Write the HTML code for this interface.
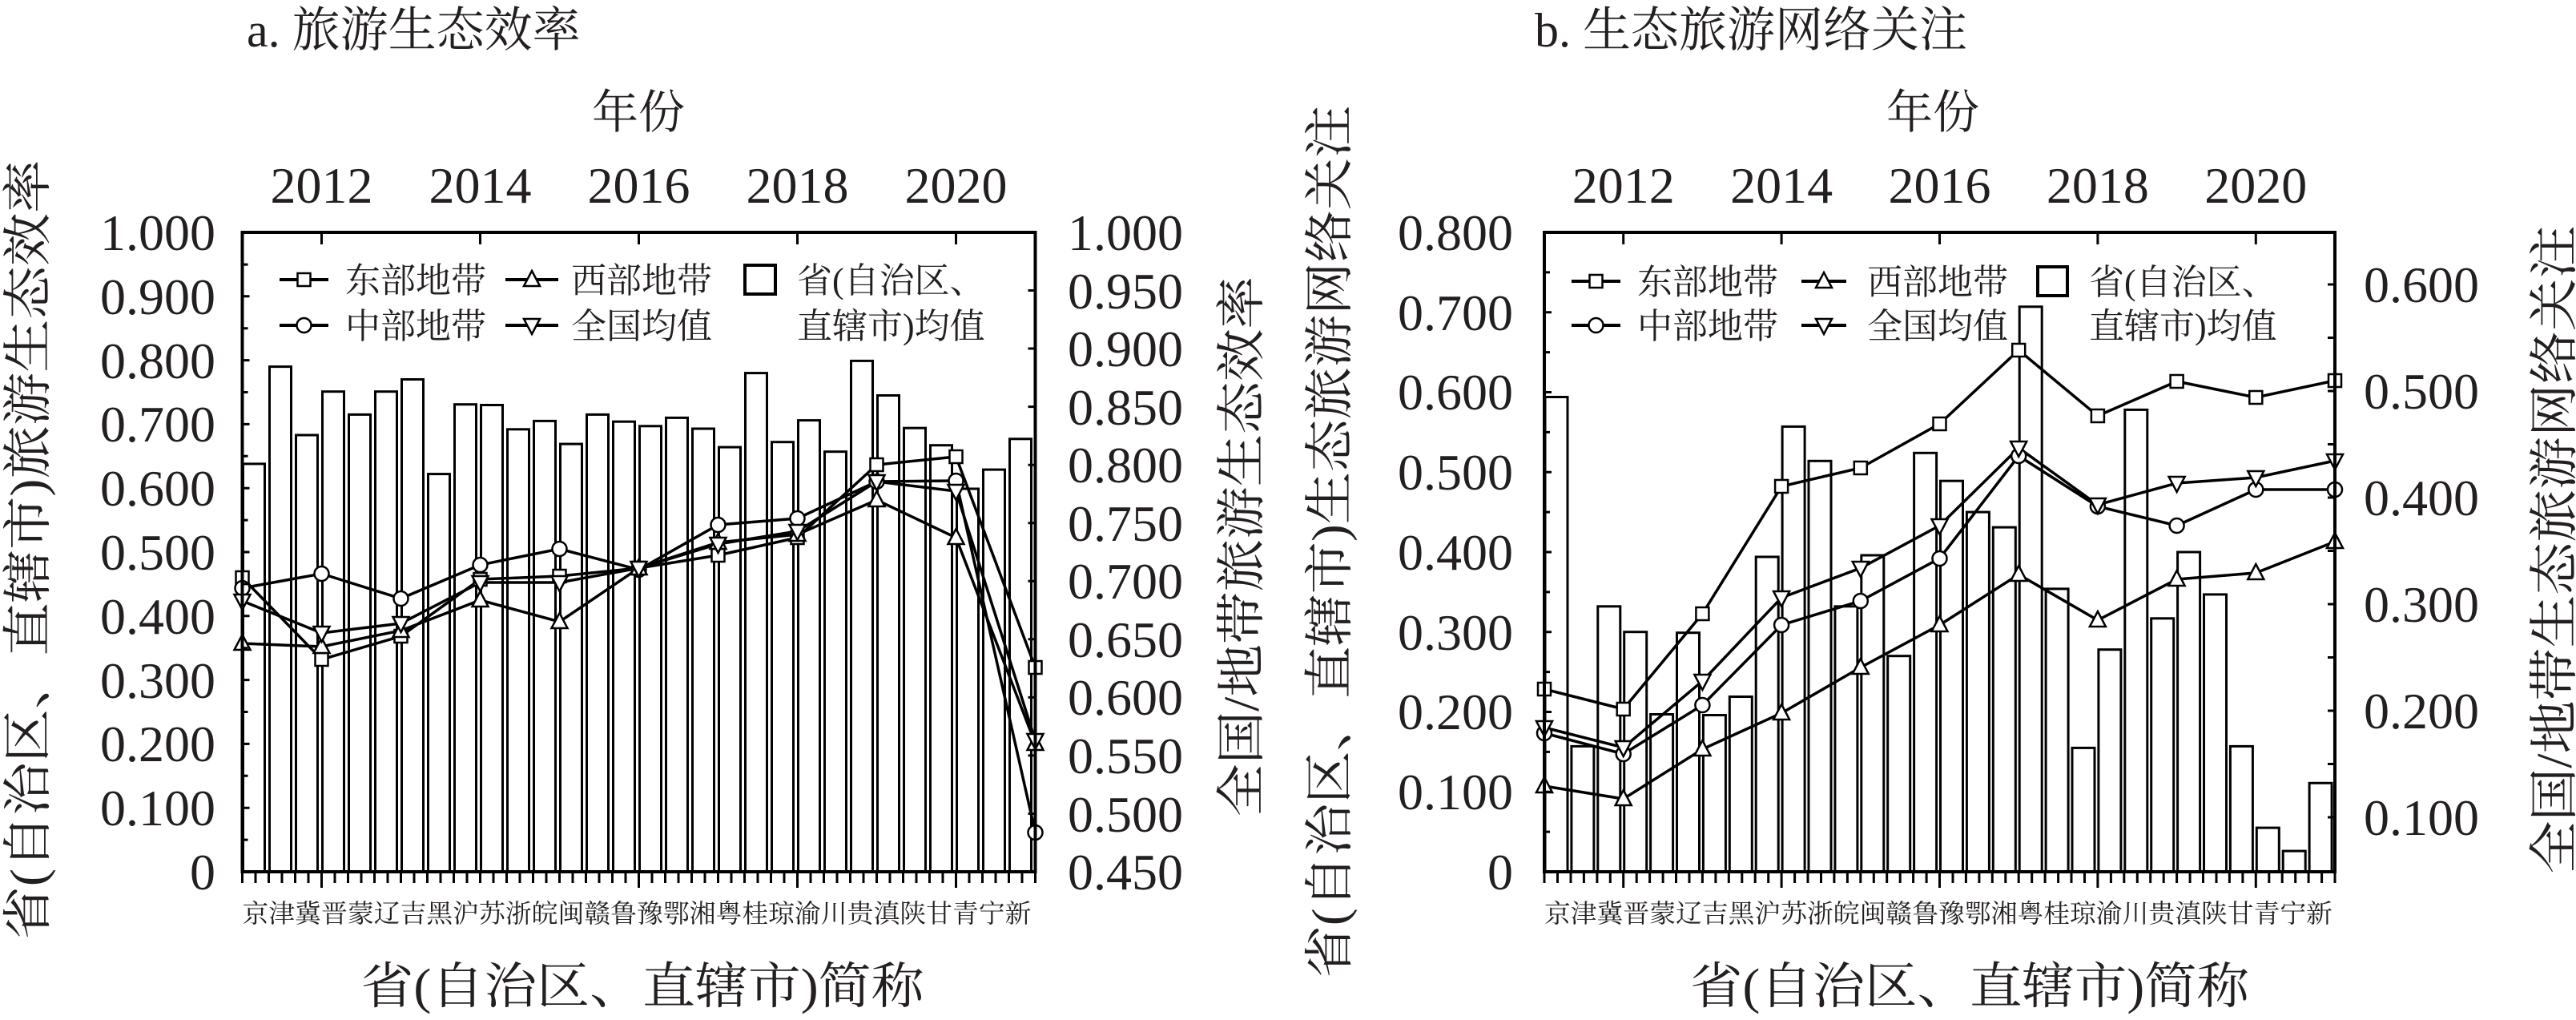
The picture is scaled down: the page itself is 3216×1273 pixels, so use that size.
<!DOCTYPE html>
<html><head><meta charset="utf-8"><style>
html,body{margin:0;padding:0;background:#fff;}
svg{display:block;}
text{font-family:"Liberation Serif","Noto Serif CJK SC",serif;fill:#231f20;}
</style></head><body>
<svg width="3216" height="1273" viewBox="0 0 3216 1273" xmlns="http://www.w3.org/2000/svg">
<defs>
<rect id="sq" x="-8" y="-8" width="16" height="16" fill="#fff" stroke="#000" stroke-width="2.5"/>
<circle id="ci" r="9" fill="#fff" stroke="#000" stroke-width="2.5"/>
<polygon id="up" points="0,-11 10,8 -10,8" fill="#fff" stroke="#000" stroke-width="2.5"/>
<polygon id="dn" points="0,11 10,-8 -10,-8" fill="#fff" stroke="#000" stroke-width="2.5"/>
</defs>

<!-- ================= CHART A ================= -->
<text x="308" y="58" font-size="60">a. 旅游生态效率</text>
<text x="797" y="160" font-size="58" text-anchor="middle">年份</text>
<g font-size="64" text-anchor="middle">
<text x="401.5" y="253">2012</text><text x="599.5" y="253">2014</text><text x="797.5" y="253">2016</text><text x="995.5" y="253">2018</text><text x="1193.5" y="253">2020</text>
</g>
<!-- bars -->
<g fill="#fff" stroke="#000" stroke-width="3">
<rect x="303.5" y="578.9" width="27" height="509.1"/>
<rect x="336.5" y="457.6" width="27" height="630.4"/>
<rect x="369.5" y="543" width="27" height="545"/>
<rect x="402.5" y="488.7" width="27" height="599.3"/>
<rect x="435.5" y="517.4" width="27" height="570.6"/>
<rect x="468.5" y="488.7" width="27" height="599.3"/>
<rect x="501.5" y="473.5" width="27" height="614.5"/>
<rect x="534.5" y="591.6" width="27" height="496.4"/>
<rect x="567.5" y="504.7" width="27" height="583.3"/>
<rect x="600.5" y="505.5" width="27" height="582.5"/>
<rect x="633.5" y="535.8" width="27" height="552.2"/>
<rect x="666.5" y="525.4" width="27" height="562.6"/>
<rect x="699.5" y="554.1" width="27" height="533.9"/>
<rect x="732.5" y="517.4" width="27" height="570.6"/>
<rect x="765.5" y="526.2" width="27" height="561.8"/>
<rect x="798.5" y="531.8" width="27" height="556.2"/>
<rect x="831.5" y="521.4" width="27" height="566.6"/>
<rect x="864.5" y="535" width="27" height="553"/>
<rect x="897.5" y="558.1" width="27" height="529.9"/>
<rect x="930.5" y="465.6" width="27" height="622.4"/>
<rect x="963.5" y="551.7" width="27" height="536.3"/>
<rect x="996.5" y="524.6" width="27" height="563.4"/>
<rect x="1029.5" y="563.7" width="27" height="524.3"/>
<rect x="1062.5" y="450.4" width="27" height="637.6"/>
<rect x="1095.5" y="493.5" width="27" height="594.5"/>
<rect x="1128.5" y="534.2" width="27" height="553.8"/>
<rect x="1161.5" y="555.7" width="27" height="532.3"/>
<rect x="1194.5" y="610" width="27" height="478"/>
<rect x="1227.5" y="586.1" width="27" height="501.9"/>
<rect x="1260.5" y="547.8" width="27" height="540.2"/>
</g>
<!-- lines -->
<g fill="none" stroke="#000" stroke-width="3.5">
<polyline points="302.5,721 401.5,823 500.5,794 599.5,723 698.5,719 797.5,709 896.5,693 995.5,671 1094.5,580 1193.5,570 1292.5,833"/>
<polyline points="302.5,734 401.5,716 500.5,747 599.5,705 698.5,685 797.5,711 896.5,655 995.5,647 1094.5,601 1193.5,600 1292.5,1039"/>
<polyline points="302.5,803 401.5,807 500.5,787 599.5,749 698.5,776 797.5,709 896.5,677 995.5,667 1094.5,624 1193.5,671 1292.5,928"/>
<polyline points="302.5,750 401.5,790 500.5,778 599.5,727 698.5,727 797.5,709 896.5,679 995.5,663 1094.5,601 1193.5,613 1292.5,924"/>
</g>
<g>
<use href="#sq" x="302.5" y="721"/><use href="#sq" x="401.5" y="823"/><use href="#sq" x="500.5" y="794"/><use href="#sq" x="599.5" y="723"/><use href="#sq" x="698.5" y="719"/><use href="#sq" x="797.5" y="709"/><use href="#sq" x="896.5" y="693"/><use href="#sq" x="995.5" y="671"/><use href="#sq" x="1094.5" y="580"/><use href="#sq" x="1193.5" y="570"/><use href="#sq" x="1292.5" y="833"/>
<use href="#ci" x="302.5" y="734"/><use href="#ci" x="401.5" y="716"/><use href="#ci" x="500.5" y="747"/><use href="#ci" x="599.5" y="705"/><use href="#ci" x="698.5" y="685"/><use href="#ci" x="797.5" y="711"/><use href="#ci" x="896.5" y="655"/><use href="#ci" x="995.5" y="647"/><use href="#ci" x="1094.5" y="601"/><use href="#ci" x="1193.5" y="600"/><use href="#ci" x="1292.5" y="1039"/>
<use href="#up" x="302.5" y="803"/><use href="#up" x="401.5" y="807"/><use href="#up" x="500.5" y="787"/><use href="#up" x="599.5" y="749"/><use href="#up" x="698.5" y="776"/><use href="#up" x="797.5" y="709"/><use href="#up" x="896.5" y="677"/><use href="#up" x="995.5" y="667"/><use href="#up" x="1094.5" y="624"/><use href="#up" x="1193.5" y="671"/><use href="#up" x="1292.5" y="928"/>
<use href="#dn" x="302.5" y="750"/><use href="#dn" x="401.5" y="790"/><use href="#dn" x="500.5" y="778"/><use href="#dn" x="599.5" y="727"/><use href="#dn" x="698.5" y="727"/><use href="#dn" x="797.5" y="709"/><use href="#dn" x="896.5" y="679"/><use href="#dn" x="995.5" y="663"/><use href="#dn" x="1094.5" y="601"/><use href="#dn" x="1193.5" y="613"/><use href="#dn" x="1292.5" y="924"/>
</g>
<!-- frame & ticks -->
<rect x="302.5" y="290" width="990" height="798" fill="none" stroke="#000" stroke-width="4"/>
<g stroke="#000" stroke-width="3">
<path d="M401.5,290v15M599.5,290v15M797.5,290v15M995.5,290v15M1193.5,290v15"/>
<path d="M302.5,330.1h7M302.5,369.8h9M302.5,409.7h7M302.5,449.6h9M302.5,489.5h7M302.5,529.4h9M302.5,569.3h7M302.5,609.2h9M302.5,649.1h7M302.5,689h9M302.5,728.9h7M302.5,768.8h9M302.5,808.7h7M302.5,848.6h9M302.5,888.5h7M302.5,928.4h9M302.5,968.3h7M302.5,1008.2h9M302.5,1048.1h7"/>
<path d="M1292.5,362.5h-9M1292.5,435h-9M1292.5,507.6h-9M1292.5,580.2h-9M1292.5,652.7h-9M1292.5,725.3h-9M1292.5,797.8h-9M1292.5,870.4h-9M1292.5,942.9h-9M1292.5,1015.5h-9"/>
<path d="M302.5,1088v14M319,1088v14M335.5,1088v14M352,1088v14M368.5,1088v14M385,1088v14M401.5,1088v20M418,1088v14M434.5,1088v14M451,1088v14M467.5,1088v14M484,1088v14M500.5,1088v14M517,1088v14M533.5,1088v14M550,1088v14M566.5,1088v14M583,1088v14M599.5,1088v14M616,1088v14M632.5,1088v14M649,1088v14M665.5,1088v14M682,1088v14M698.5,1088v14M715,1088v14M731.5,1088v14M748,1088v14M764.5,1088v14M781,1088v14M797.5,1088v20M814,1088v14M830.5,1088v14M847,1088v14M863.5,1088v14M880,1088v14M896.5,1088v14M913,1088v14M929.5,1088v14M946,1088v14M962.5,1088v14M979,1088v14M995.5,1088v20M1012,1088v14M1028.5,1088v14M1045,1088v14M1061.5,1088v14M1078,1088v14M1094.5,1088v14M1111,1088v14M1127.5,1088v14M1144,1088v14M1160.5,1088v14M1177,1088v14M1193.5,1088v20M1210,1088v14M1226.5,1088v14M1243,1088v14M1259.5,1088v14M1276,1088v14M1292.5,1088v14"/>
</g>
<!-- left tick labels -->
<g font-size="64" text-anchor="end">
<text x="269" y="312">1.000</text><text x="269" y="392">0.900</text><text x="269" y="472">0.800</text><text x="269" y="551">0.700</text><text x="269" y="631">0.600</text><text x="269" y="711">0.500</text><text x="269" y="791">0.400</text><text x="269" y="871">0.300</text><text x="269" y="950">0.200</text><text x="269" y="1030">0.100</text><text x="269" y="1110">0</text>
</g>
<g font-size="64" text-anchor="start">
<text x="1333" y="312">1.000</text><text x="1333" y="385">0.950</text><text x="1333" y="457">0.900</text><text x="1333" y="530">0.850</text><text x="1333" y="602">0.800</text><text x="1333" y="675">0.750</text><text x="1333" y="747">0.700</text><text x="1333" y="820">0.650</text><text x="1333" y="892">0.600</text><text x="1333" y="965">0.550</text><text x="1333" y="1038">0.500</text><text x="1333" y="1110">0.450</text>
</g>
<text x="795" y="1151" font-size="32" textLength="985" lengthAdjust="spacingAndGlyphs" text-anchor="middle">京津冀晋蒙辽吉黑沪苏浙皖闽赣鲁豫鄂湘粤桂琼渝川贵滇陕甘青宁新</text>
<text x="802" y="1252" font-size="62" textLength="703" lengthAdjust="spacingAndGlyphs" text-anchor="middle">省(自治区、直辖市)简称</text>
<text transform="translate(36,686) rotate(-90)" font-size="62" textLength="973" lengthAdjust="spacingAndGlyphs" text-anchor="middle" dominant-baseline="central">省(自治区、直辖市)旅游生态效率</text>
<text transform="translate(1551,682) rotate(-90)" font-size="62" textLength="674" lengthAdjust="spacingAndGlyphs" text-anchor="middle" dominant-baseline="central">全国/地带旅游生态效率</text>
<!-- legend a -->
<g stroke="#000" stroke-width="4"><path d="M349,349h61M631,349h66M349,406h61M631,406h66"/></g>
<use href="#sq" x="379.5" y="349"/><use href="#up" x="664" y="349"/><use href="#ci" x="379.5" y="406"/><use href="#dn" x="664" y="406"/>
<rect x="930" y="331" width="38" height="36" fill="#fff" stroke="#000" stroke-width="4"/>
<g font-size="44">
<text x="431" y="365">东部地带</text><text x="713" y="365">西部地带</text><text x="995" y="365">省(自治区、</text>
<text x="431" y="422">中部地带</text><text x="713" y="422">全国均值</text><text x="995" y="422">直辖市)均值</text>
</g>

<!-- ================= CHART B ================= -->
<text x="1916" y="58" font-size="60">b. 生态旅游网络关注</text>
<text x="2413" y="160" font-size="58" text-anchor="middle">年份</text>
<g font-size="64" text-anchor="middle">
<text x="2026.7" y="253">2012</text><text x="2224.1" y="253">2014</text><text x="2421.5" y="253">2016</text><text x="2618.9" y="253">2018</text><text x="2816.3" y="253">2020</text>
</g>
<g fill="#fff" stroke="#000" stroke-width="3">
<rect x="1929" y="495.5" width="28" height="592.5"/>
<rect x="1961.9" y="931.4" width="28" height="156.6"/>
<rect x="1994.8" y="756.8" width="28" height="331.2"/>
<rect x="2027.7" y="788.7" width="28" height="299.3"/>
<rect x="2060.6" y="891.5" width="28" height="196.5"/>
<rect x="2093.5" y="789.7" width="28" height="298.3"/>
<rect x="2126.4" y="892.5" width="28" height="195.5"/>
<rect x="2159.3" y="869.5" width="28" height="218.5"/>
<rect x="2192.2" y="695" width="28" height="393"/>
<rect x="2225.1" y="532.4" width="28" height="555.6"/>
<rect x="2258" y="575.3" width="28" height="512.7"/>
<rect x="2290.9" y="756.8" width="28" height="331.2"/>
<rect x="2323.8" y="693" width="28" height="395"/>
<rect x="2356.7" y="818.7" width="28" height="269.3"/>
<rect x="2389.6" y="565.3" width="28" height="522.7"/>
<rect x="2422.5" y="600.2" width="28" height="487.8"/>
<rect x="2455.4" y="639.1" width="28" height="448.9"/>
<rect x="2488.3" y="658.1" width="28" height="429.9"/>
<rect x="2521.2" y="382.8" width="28" height="705.2"/>
<rect x="2554.1" y="734.9" width="28" height="353.1"/>
<rect x="2587" y="933.4" width="28" height="154.6"/>
<rect x="2619.9" y="810.7" width="28" height="277.3"/>
<rect x="2652.8" y="511.4" width="28" height="576.6"/>
<rect x="2685.7" y="771.8" width="28" height="316.2"/>
<rect x="2718.6" y="689" width="28" height="399"/>
<rect x="2751.5" y="741.9" width="28" height="346.1"/>
<rect x="2784.4" y="931.4" width="28" height="156.6"/>
<rect x="2817.3" y="1033.1" width="28" height="54.9"/>
<rect x="2850.2" y="1062.1" width="28" height="25.9"/>
<rect x="2883.1" y="977.3" width="28" height="110.7"/>
</g>
<g fill="none" stroke="#000" stroke-width="3.5">
<polyline points="1928,860 2026.7,885 2125.4,766 2224.1,607 2322.8,584 2421.5,529 2520.2,437 2618.9,519 2717.6,476 2816.3,496 2915,475"/>
<polyline points="1928,915 2026.7,941 2125.4,880 2224.1,780 2322.8,750 2421.5,697 2520.2,569 2618.9,632 2717.6,656 2816.3,611 2915,611"/>
<polyline points="1928,981 2026.7,997 2125.4,935 2224.1,890 2322.8,833 2421.5,780 2520.2,717 2618.9,774 2717.6,723 2816.3,715 2915,676"/>
<polyline points="1928,908 2026.7,933 2125.4,850 2224.1,746 2322.8,709 2421.5,656 2520.2,559 2618.9,630 2717.6,603 2816.3,596 2915,575"/>
</g>
<g>
<use href="#sq" x="1928" y="860"/><use href="#sq" x="2026.7" y="885"/><use href="#sq" x="2125.4" y="766"/><use href="#sq" x="2224.1" y="607"/><use href="#sq" x="2322.8" y="584"/><use href="#sq" x="2421.5" y="529"/><use href="#sq" x="2520.2" y="437"/><use href="#sq" x="2618.9" y="519"/><use href="#sq" x="2717.6" y="476"/><use href="#sq" x="2816.3" y="496"/><use href="#sq" x="2915" y="475"/>
<use href="#ci" x="1928" y="915"/><use href="#ci" x="2026.7" y="941"/><use href="#ci" x="2125.4" y="880"/><use href="#ci" x="2224.1" y="780"/><use href="#ci" x="2322.8" y="750"/><use href="#ci" x="2421.5" y="697"/><use href="#ci" x="2520.2" y="569"/><use href="#ci" x="2618.9" y="632"/><use href="#ci" x="2717.6" y="656"/><use href="#ci" x="2816.3" y="611"/><use href="#ci" x="2915" y="611"/>
<use href="#up" x="1928" y="981"/><use href="#up" x="2026.7" y="997"/><use href="#up" x="2125.4" y="935"/><use href="#up" x="2224.1" y="890"/><use href="#up" x="2322.8" y="833"/><use href="#up" x="2421.5" y="780"/><use href="#up" x="2520.2" y="717"/><use href="#up" x="2618.9" y="774"/><use href="#up" x="2717.6" y="723"/><use href="#up" x="2816.3" y="715"/><use href="#up" x="2915" y="676"/>
<use href="#dn" x="1928" y="908"/><use href="#dn" x="2026.7" y="933"/><use href="#dn" x="2125.4" y="850"/><use href="#dn" x="2224.1" y="746"/><use href="#dn" x="2322.8" y="709"/><use href="#dn" x="2421.5" y="656"/><use href="#dn" x="2520.2" y="559"/><use href="#dn" x="2618.9" y="630"/><use href="#dn" x="2717.6" y="603"/><use href="#dn" x="2816.3" y="596"/><use href="#dn" x="2915" y="575"/>
</g>
<rect x="1928" y="290" width="987" height="798" fill="none" stroke="#000" stroke-width="4"/>
<g stroke="#000" stroke-width="3">
<path d="M2026.7,290v15M2224.1,290v15M2421.5,290v15M2618.9,290v15M2816.3,290v15"/>
<path d="M1928,339.9h7M1928,389.8h9M1928,439.6h7M1928,489.5h9M1928,539.4h7M1928,589.3h9M1928,639.1h7M1928,689h9M1928,738.9h7M1928,788.8h9M1928,838.6h7M1928,888.5h9M1928,938.4h7M1928,988.3h9M1928,1038.1h7"/>
<path d="M2915,355h-9M2915,421.5h-9M2915,488h-9M2915,554.5h-9M2915,621h-9M2915,687.5h-9M2915,754h-9M2915,820.5h-9M2915,887h-9M2915,953.5h-9M2915,1020h-9"/>
<path d="M1928,1088v14M1944.5,1088v14M1961,1088v14M1977.4,1088v14M1993.9,1088v14M2010.3,1088v14M2026.7,1088v20M2043.2,1088v14M2059.6,1088v14M2076.1,1088v14M2092.5,1088v14M2109,1088v14M2125.4,1088v14M2141.9,1088v14M2158.3,1088v14M2174.8,1088v14M2191.2,1088v14M2207.7,1088v14M2224.1,1088v20M2240.6,1088v14M2257,1088v14M2273.5,1088v14M2289.9,1088v14M2306.4,1088v14M2322.8,1088v14M2339.3,1088v14M2355.7,1088v14M2372.2,1088v14M2388.6,1088v14M2405.1,1088v14M2421.5,1088v20M2438,1088v14M2454.4,1088v14M2470.9,1088v14M2487.3,1088v14M2503.8,1088v14M2520.2,1088v14M2536.7,1088v14M2553.1,1088v14M2569.6,1088v14M2586,1088v14M2602.5,1088v14M2618.9,1088v20M2635.4,1088v14M2651.8,1088v14M2668.3,1088v14M2684.7,1088v14M2701.2,1088v14M2717.6,1088v14M2734.1,1088v14M2750.5,1088v14M2767,1088v14M2783.4,1088v14M2799.9,1088v14M2816.3,1088v20M2832.8,1088v14M2849.2,1088v14M2865.7,1088v14M2882.1,1088v14M2898.6,1088v14M2915,1088v14"/>
</g>
<g font-size="64" text-anchor="end">
<text x="1889" y="312">0.800</text><text x="1889" y="412">0.700</text><text x="1889" y="511">0.600</text><text x="1889" y="611">0.500</text><text x="1889" y="711">0.400</text><text x="1889" y="811">0.300</text><text x="1889" y="910">0.200</text><text x="1889" y="1010">0.100</text><text x="1889" y="1110">0</text>
</g>
<g font-size="64" text-anchor="start">
<text x="2951" y="377">0.600</text><text x="2951" y="510">0.500</text><text x="2951" y="643">0.400</text><text x="2951" y="776">0.300</text><text x="2951" y="909">0.200</text><text x="2951" y="1042">0.100</text>
</g>
<text x="2420" y="1151" font-size="32" textLength="984" lengthAdjust="spacingAndGlyphs" text-anchor="middle">京津冀晋蒙辽吉黑沪苏浙皖闽赣鲁豫鄂湘粤桂琼渝川贵滇陕甘青宁新</text>
<text x="2459" y="1252" font-size="62" textLength="698" lengthAdjust="spacingAndGlyphs" text-anchor="middle">省(自治区、直辖市)简称</text>
<text transform="translate(1661,676) rotate(-90)" font-size="62" textLength="1089" lengthAdjust="spacingAndGlyphs" text-anchor="middle" dominant-baseline="central">省(自治区、直辖市)生态旅游网络关注</text>
<text transform="translate(3190,686) rotate(-90)" font-size="62" textLength="809" lengthAdjust="spacingAndGlyphs" text-anchor="middle" dominant-baseline="central">全国/地带生态旅游网络关注</text>
<g stroke="#000" stroke-width="4"><path d="M1962,351h61M2249,351h56M1962,406h61M2249,406h56"/></g>
<use href="#sq" x="1992.5" y="351"/><use href="#up" x="2277" y="351"/><use href="#ci" x="1992.5" y="406"/><use href="#dn" x="2277" y="406"/>
<rect x="2544" y="333" width="37" height="36" fill="#fff" stroke="#000" stroke-width="4"/>
<g font-size="44">
<text x="2044" y="367">东部地带</text><text x="2331" y="367">西部地带</text><text x="2608" y="367">省(自治区、</text>
<text x="2044" y="422">中部地带</text><text x="2331" y="422">全国均值</text><text x="2608" y="422">直辖市)均值</text>
</g>
</svg>
</body></html>
